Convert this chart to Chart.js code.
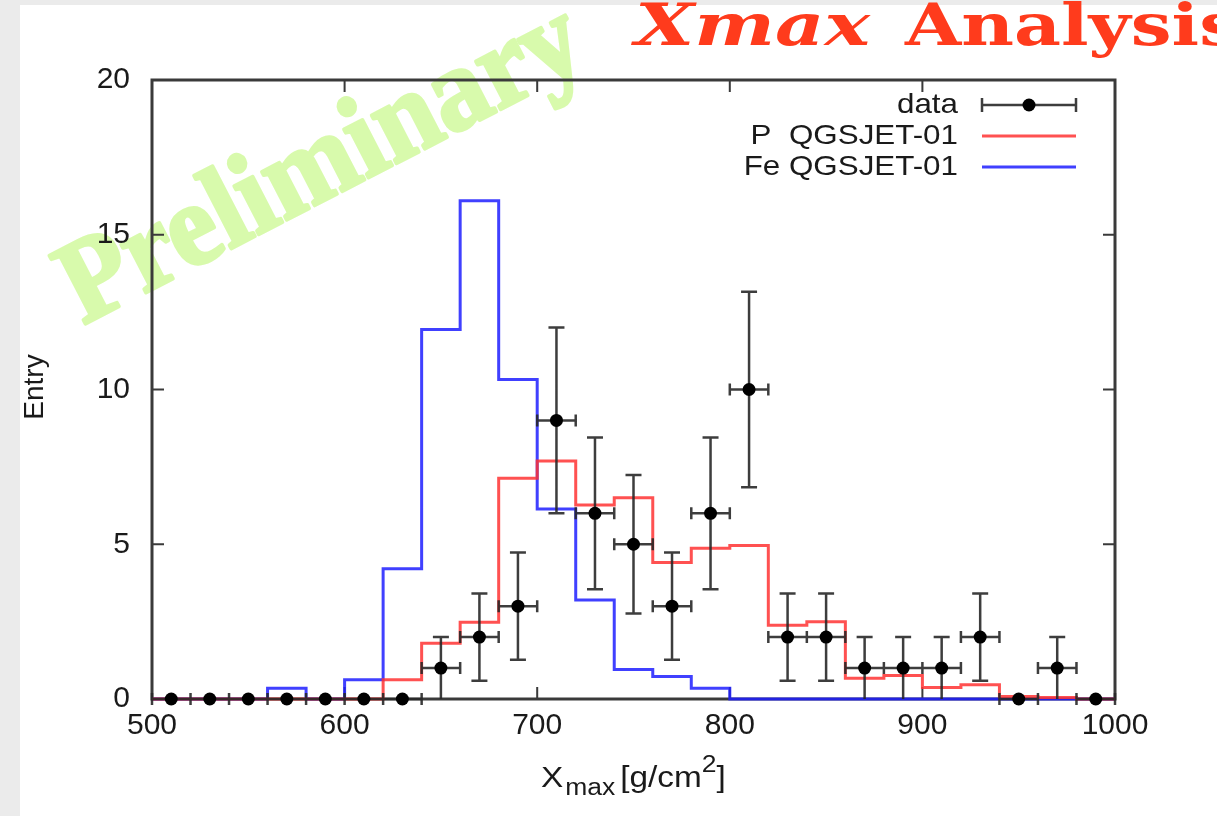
<!DOCTYPE html>
<html>
<head>
<meta charset="utf-8">
<script src="https://cdn.jsdelivr.net/npm/chart.js@4.4.1/dist/chart.umd.min.js"></script>
<style>
  html, body { margin: 0; padding: 0; }
  body { width: 1217px; height: 816px; background: #ebebeb; position: relative; overflow: hidden; }
  #panel { position: absolute; left: 20px; top: 5px; right: 0; bottom: 0; background: #fff; }
  #xmaxChart { position: absolute; left: 0; top: 0; }
</style>
</head>
<body>
<div id="panel"></div>
<canvas id="xmaxChart" width="1217" height="816"></canvas>
<script>
// bin centres of the Xmax histogram (g/cm2), bins are 20 wide
const binCenters = [510, 530, 550, 570, 590, 610, 630, 650, 670, 690, 710, 730, 750,
                    770, 790, 810, 830, 850, 870, 890, 910, 930, 950, 970, 990];
const binHalfWidth = 10;

// measured entries and their errors
const dataEntries = [0, 0, 0, 0, 0, 0, 0, 1, 2, 3, 9, 6, 5, 3, 6, 10, 2, 2, 1, 1, 1, 2, 0, 1, 0];
const dataErrors  = [0, 0, 0, 0, 0, 0, 0, 1, 1.41, 1.73, 3, 2.45, 2.24, 1.73, 2.45, 3.16,
                     1.41, 1.41, 1, 1, 1, 1.41, 0, 1, 0];

// simulated histograms
const protonQGSJET = [0, 0, 0, 0, 0, 0, 0.62, 1.8, 2.48, 7.13, 7.69, 6.27, 6.5, 4.41, 4.87,
                      4.96, 2.38, 2.5, 0.67, 0.76, 0.37, 0.46, 0.08, 0.05, 0];
const ironQGSJET   = [0, 0, 0, 0.35, 0, 0.62, 4.21, 11.94, 16.1, 10.32, 6.14, 3.2, 0.95, 0.73,
                      0.35, 0, 0, 0, 0, 0, 0, 0, 0, 0, 0];

const xTicks = [500, 600, 700, 800, 900, 1000];
const yTicks = [0, 5, 10, 15, 20];

const RED = "rgba(255, 50, 50, 0.85)";
const BLUE = "rgba(30, 30, 255, 0.85)";
const INK = "#1a1a1a";
const AXIS = "#3a3a3a";
const SANS = '"Liberation Sans", Arial, sans-serif';

// histogram as step line: left edge of each bin, plus the closing right edge
function stepPoints(values) {
    const pts = binCenters.map((c, i) => ({ x: c - binHalfWidth, y: values[i] }));
    const last = binCenters.length - 1;
    pts.push({ x: binCenters[last] + binHalfWidth, y: values[last] });
    return pts;
}

// text squeezed/stretched horizontally, like the scanned picture
function wideText(ctx, text, x, y, k) {
    ctx.save();
    ctx.translate(x, y);
    ctx.scale(k, 1);
    ctx.fillText(text, 0, 0);
    const w = ctx.measureText(text).width * k;
    ctx.restore();
    return w;
}

// frame with inward tick marks (gnuplot look)
const framePlugin = {
    id: "frame",
    beforeDatasetsDraw(chart) {
        const { ctx, chartArea: a, scales } = chart;
        ctx.save();
        ctx.strokeStyle = AXIS;
        ctx.lineWidth = 3;
        ctx.strokeRect(a.left, a.top, a.right - a.left, a.bottom - a.top);
        ctx.lineWidth = 2;
        const len = 12;
        ctx.beginPath();
        xTicks.slice(1, -1).forEach(v => {
            const px = scales.x.getPixelForValue(v);
            ctx.moveTo(px, a.bottom); ctx.lineTo(px, a.bottom - len);
            ctx.moveTo(px, a.top); ctx.lineTo(px, a.top + len);
        });
        yTicks.slice(1, -1).forEach(v => {
            const py = scales.y.getPixelForValue(v);
            ctx.moveTo(a.left, py); ctx.lineTo(a.left + len, py);
            ctx.moveTo(a.right, py); ctx.lineTo(a.right - len, py);
        });
        ctx.stroke();
        ctx.restore();
    }
};

// x and y error bars of the data, drawn just before the data points
const errorBarPlugin = {
    id: "errorBars",
    beforeDatasetDraw(chart, args) {
        if (args.index !== 0) return;
        const { ctx, scales } = chart;
        ctx.save();
        ctx.strokeStyle = "rgba(40, 40, 40, 0.9)";
        ctx.lineWidth = 2.5;
        ctx.beginPath();
        binCenters.forEach((c, i) => {
            const px = scales.x.getPixelForValue(c);
            const py = scales.y.getPixelForValue(dataEntries[i]);
            const xl = scales.x.getPixelForValue(c - binHalfWidth);
            const xr = scales.x.getPixelForValue(c + binHalfWidth);
            ctx.moveTo(xl, py); ctx.lineTo(xr, py);
            ctx.moveTo(xl, py - 6); ctx.lineTo(xl, py + 6);
            ctx.moveTo(xr, py - 6); ctx.lineTo(xr, py + 6);
            if (dataErrors[i] > 0) {
                const yt = scales.y.getPixelForValue(dataEntries[i] + dataErrors[i]);
                const yb = scales.y.getPixelForValue(Math.max(0, dataEntries[i] - dataErrors[i]));
                ctx.moveTo(px, yt); ctx.lineTo(px, yb);
                ctx.moveTo(px - 8, yt); ctx.lineTo(px + 8, yt);
                if (dataEntries[i] - dataErrors[i] > 0) {
                    ctx.moveTo(px - 8, yb); ctx.lineTo(px + 8, yb);
                }
            }
        });
        ctx.stroke();
        ctx.restore();
    }
};

// legend, axis titles, page title and watermark
const decorPlugin = {
    id: "decor",
    afterDraw(chart) {
        const { ctx } = chart;
        ctx.save();

        // legend
        ctx.font = "28px " + SANS;
        ctx.textAlign = "right";
        ctx.textBaseline = "middle";
        const rows = [
            { label: "data", y: 105 },
            { label: "P  QGSJET-01", y: 136, color: RED },
            { label: "Fe QGSJET-01", y: 167, color: BLUE }
        ];
        const sx0 = 982, sx1 = 1076;
        rows.forEach(r => {
            ctx.fillStyle = INK;
            wideText(ctx, r.label, 958, r.y, 1.12);
            ctx.beginPath();
            if (r.color) {
                ctx.strokeStyle = r.color;
                ctx.lineWidth = 3;
                ctx.moveTo(sx0, r.y); ctx.lineTo(sx1, r.y);
                ctx.stroke();
            } else {
                ctx.strokeStyle = "rgba(40, 40, 40, 0.9)";
                ctx.lineWidth = 2.5;
                ctx.moveTo(sx0, r.y); ctx.lineTo(sx1, r.y);
                ctx.moveTo(sx0, r.y - 7); ctx.lineTo(sx0, r.y + 7);
                ctx.moveTo(sx1, r.y - 7); ctx.lineTo(sx1, r.y + 7);
                ctx.stroke();
                ctx.beginPath();
                ctx.fillStyle = "#000";
                ctx.arc((sx0 + sx1) / 2, r.y, 6.5, 0, Math.PI * 2);
                ctx.fill();
            }
        });

        // y title
        ctx.fillStyle = INK;
        ctx.save();
        ctx.translate(35, 387);
        ctx.rotate(-Math.PI / 2);
        ctx.textAlign = "center";
        ctx.textBaseline = "middle";
        ctx.font = "28px " + SANS;
        ctx.fillText("Entry", 0, 0);
        ctx.restore();

        // x title: X_max [g/cm^2]
        ctx.textAlign = "left";
        ctx.textBaseline = "alphabetic";
        const big = "29px " + SANS;
        const small = "23px " + SANS;
        const k = 1.15;
        let x = 541;
        const base = 787;
        ctx.font = big; x += wideText(ctx, "X", x, base, k) + 2;
        ctx.font = small; x += wideText(ctx, "max", x, base + 8, k) + 5;
        ctx.font = big; x += wideText(ctx, "[g/cm", x, base, k);
        ctx.font = small; x += wideText(ctx, "2", x, base - 15, k);
        ctx.font = big; wideText(ctx, "]", x, base, k);

        // page title
        ctx.fillStyle = "#ff3b1c";
        ctx.font = 'italic bold 58px "DejaVu Serif", serif';
        let w = ctx.measureText("Xmax").width;
        wideText(ctx, "Xmax", 635, 45, 235 / w);
        ctx.font = 'bold 58px "DejaVu Serif", serif';
        w = ctx.measureText("Analysis").width;
        wideText(ctx, "Analysis", 905, 45, 335 / w);

        // watermark, "darken" keeps the axis lines visible through it
        ctx.save();
        ctx.globalCompositeOperation = "darken";
        ctx.fillStyle = "rgb(216, 250, 172)";
        ctx.strokeStyle = "rgb(216, 250, 172)";
        ctx.lineWidth = 3.5;
        ctx.lineJoin = "round";
        const x0 = 83, y0 = 325, L = 572, theta = 27.3 * Math.PI / 180;
        ctx.font = 'bold 100px "Liberation Serif", serif';
        const fs = 100 * L / ctx.measureText("Preliminary").width;
        ctx.font = "bold " + fs.toFixed(1) + 'px "Liberation Serif", serif';
        ctx.translate(x0, y0);
        ctx.rotate(-theta);
        ctx.scale(1, 1.06);
        ctx.fillText("Preliminary", 0, 0);
        ctx.strokeText("Preliminary", 0, 0);
        ctx.restore();

        ctx.restore();
    }
};

new Chart(document.getElementById("xmaxChart").getContext("2d"), {
    type: "scatter",
    data: {
        datasets: [
            {
                label: "data",
                data: binCenters.map((c, i) => ({ x: c, y: dataEntries[i] })),
                pointRadius: 6.5,
                pointBackgroundColor: "#000",
                pointBorderWidth: 0,
                showLine: false,
                clip: false,
                order: 0
            },
            {
                label: "P  QGSJET-01",
                type: "line",
                data: stepPoints(protonQGSJET),
                stepped: true,
                borderColor: RED,
                borderWidth: 3,
                pointRadius: 0,
                fill: false,
                clip: false,
                order: 1
            },
            {
                label: "Fe QGSJET-01",
                type: "line",
                data: stepPoints(ironQGSJET),
                stepped: true,
                borderColor: BLUE,
                borderWidth: 3,
                pointRadius: 0,
                fill: false,
                clip: false,
                order: 2
            }
        ]
    },
    options: {
        responsive: false,
        animation: false,
        devicePixelRatio: 1,
        layout: { padding: { left: 0, top: 80, right: 102, bottom: 0 } },
        plugins: { legend: { display: false }, tooltip: { enabled: false } },
        scales: {
            x: {
                type: "linear",
                min: 500,
                max: 1000,
                afterBuildTicks: s => { s.ticks = xTicks.map(v => ({ value: v })); },
                afterFit: s => { s.height = 117; },
                ticks: {
                    color: INK,
                    padding: 9,
                    maxRotation: 0,
                    callback: v => String(v),
                    font: { family: SANS, size: 30 }
                },
                grid: { display: false, drawTicks: false },
                border: { display: false }
            },
            y: {
                type: "linear",
                min: 0,
                max: 20,
                afterBuildTicks: s => { s.ticks = yTicks.map(v => ({ value: v })); },
                afterFit: s => { s.width = 152; },
                ticks: {
                    color: INK,
                    padding: 22,
                    callback: v => String(v),
                    font: { family: SANS, size: 30 }
                },
                grid: { display: false, drawTicks: false },
                border: { display: false }
            }
        }
    },
    plugins: [framePlugin, errorBarPlugin, decorPlugin]
});
</script>
</body>
</html>
